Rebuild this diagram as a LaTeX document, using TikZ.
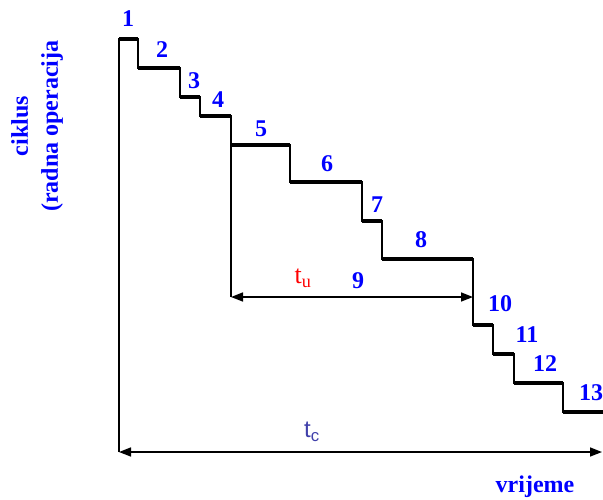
\documentclass[tikz,border=0pt]{standalone}
\usepackage{fontspec}
\setmainfont{Liberation Serif}
\newfontfamily\timesfont{Liberation Serif}
\newfontfamily\arialfont{Liberation Sans}
\usetikzlibrary{arrows.meta}

\definecolor{stepblue}{RGB}{0,0,255}
\definecolor{tcblue}{RGB}{64,64,170}

\begin{document}
\begin{tikzpicture}[
            x=1pt, y=-1pt,
            num/.style={text=stepblue, inner sep=0pt, font=\timesfont\fontsize{24}{24}\selectfont\bfseries},
            stair/.style={line width=2pt, line join=miter},
            tread/.style={line width=3.5pt},
            span/.style={{Triangle[length=12pt,width=9pt]}-{Triangle[length=12pt,width=9pt]}, line width=1.5pt}
        ]
            \useasboundingbox (0,0) rectangle (603,499);

            % Staircase (one step per operation)
            \draw[stair] (119,452) -- (119,39) -| (138,68) -| (180,97) -| (200,116) -| (231,145)
                -| (290,182) -| (362,221) -| (382,259) -| (473,325) -| (493,354) -| (514,383)
                -| (563,412) -- (603,412);
            \foreach \xa/\xb/\y in {119/138/39, 138/180/68, 180/200/97, 200/231/116, 231/290/145,
                                   290/362/182, 362/382/221, 382/473/259, 473/493/325,
                                   493/514/354, 514/563/383, 563/603/412}
                \draw[tread] (\xa,\y) -- (\xb,\y);

            % Step numbers
            \foreach \i/\x/\y in {1/128/19, 2/162/50, 3/194/81, 4/218/100, 5/261/129, 6/327/164,
                                  7/377/205, 8/421/240, 9/358/281, 10/500/304, 11/527/335,
                                  12/545/364, 13/591/393}
                \node[num] (op\i) at (\x,\y) {\i};

            % Time spans
            \coordinate (tu-a) at (231,297);
            \coordinate (tu-b) at (473,297);
            \coordinate (tc-a) at (119,452);
            \coordinate (tc-b) at (602,452);
            \draw[stair] (231,145) -- (tu-a);
            \draw[span] (tu-a) -- (tu-b);
            \draw[span] (tc-a) -- (tc-b);
            \node[text=red, inner sep=0pt, font=\timesfont\fontsize{26}{26}\selectfont] (tu) at (303,278) {t\textsubscript{u}};
            \node[text=tcblue, inner sep=0pt, font=\arialfont\fontsize{24}{24}\selectfont] (tc) at (312,432) {t\textsubscript{c}};

            % Axis labels
            \node[num, rotate=90, align=center, font=\timesfont\fontsize{24}{30}\selectfont\bfseries] (ylab) at (37,126)
                {ciklus\\(radna operacija};
            \node[num] (xlab) at (535,487) {vrijeme};
        \end{tikzpicture}
\end{document}
